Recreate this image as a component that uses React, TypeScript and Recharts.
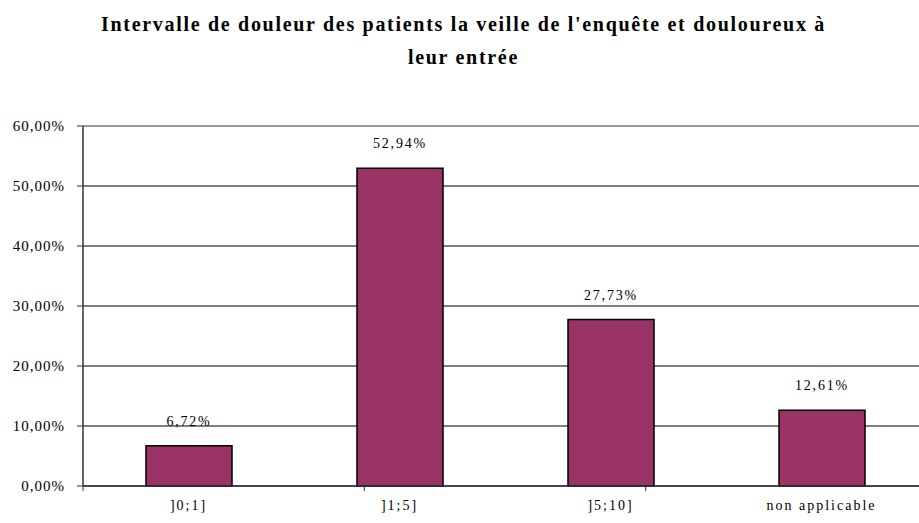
import {
  BarChart,
  Bar,
  XAxis,
  YAxis,
  CartesianGrid,
  ReferenceLine,
  LabelList,
} from "recharts"

const categories = ["]0;1]", "]1;5]", "]5;10]", "non applicable"]
const percents = [6.72, 52.94, 27.73, 12.61]
const yTicks = [0, 10, 20, 30, 40, 50, 60]
const edgeTicks = [0, 1, 2, 3, 4]

const data = categories.map((name, i) => ({ name, value: percents[i] }))

const serif = "Liberation Serif, Times New Roman, serif"
const frPct = (v: number) => v.toFixed(2).replace(".", ",") + "%"

const ValueLabel = (props: any) => {
  const { x, y, width, value } = props
  return (
    <text
      x={x + width / 2}
      y={y - 20}
      textAnchor="middle"
      fontFamily={serif}
      fontSize={14}
      letterSpacing={1.8}
      fill="#000"
    >
      {frPct(value)}
    </text>
  )
}

const App = () => {
  return (
    <div
      style={{
        position: "absolute",
        top: 0,
        left: 0,
        width: 919,
        height: 523,
        overflow: "hidden",
        background: "#fff",
      }}
    >
      {/* title */}
      <div
        style={{
          position: "absolute",
          top: 8,
          left: 4,
          width: 919,
          textAlign: "center",
          fontFamily: serif,
          fontWeight: "bold",
          fontSize: 20,
          letterSpacing: 1.7,
          lineHeight: "33px",
          color: "#000",
        }}
      >
        Intervalle de douleur des patients la veille de l'enquête et douloureux à
        <br />
        leur entrée
      </div>
      <BarChart
        width={927}
        height={523}
        data={data}
        margin={{ top: 126, right: 0, left: 0, bottom: 0 }}
      >
        <CartesianGrid horizontal vertical={false} stroke="#000" strokeWidth={1} />
        <ReferenceLine y={60} stroke="#9a9a9a" strokeWidth={2} />
        {/* boundary ticks between categories, like the original */}
        <XAxis
          type="number"
          domain={[0, 4]}
          ticks={edgeTicks}
          interval={0}
          height={1}
          tickSize={5}
          tick={() => <g />}
          axisLine={{ stroke: "#333", strokeWidth: 1.5 }}
          tickLine={{ stroke: "#333" }}
        />
        <XAxis
          xAxisId="cat"
          dataKey="name"
          height={36}
          axisLine={false}
          tickLine={false}
          tickSize={0}
          tickMargin={13}
          tick={{ fill: "#000", fontSize: 14, fontFamily: serif, letterSpacing: 2 }}
        />
        <YAxis
          width={83}
          domain={[0, 60]}
          ticks={yTicks}
          interval={0}
          tickFormatter={frPct}
          tickSize={6}
          tickMargin={12}
          axisLine={{ stroke: "#333", strokeWidth: 1.5 }}
          tickLine={{ stroke: "#333" }}
          tick={{ fill: "#000", fontSize: 15, fontFamily: serif, letterSpacing: 1 }}
        />
        <Bar
          xAxisId="cat"
          dataKey="value"
          barSize={86}
          fill="#993366"
          stroke="#000"
          strokeWidth={1.5}
          isAnimationActive={false}
        >
          <LabelList dataKey="value" content={ValueLabel} />
        </Bar>
      </BarChart>
    </div>
  )
}

export default App
